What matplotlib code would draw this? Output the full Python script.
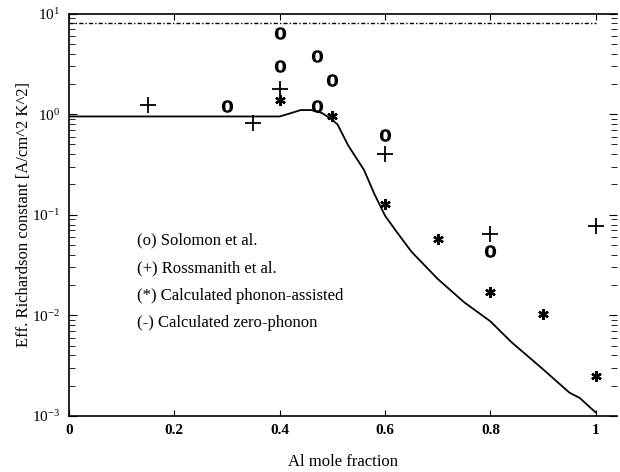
import matplotlib
matplotlib.use("Agg")
import matplotlib.pyplot as plt

plt.rcParams['font.family'] = 'serif'
plt.rcParams['font.serif'] = ['Liberation Serif', 'DejaVu Serif']
plt.rcParams['mathtext.fontset'] = 'custom'
plt.rcParams['mathtext.rm'] = 'Liberation Serif'
plt.rcParams['mathtext.bf'] = 'Liberation Serif:bold'

# measured data: Solomon et al. (o)
solomon_x = [0.30, 0.40, 0.40, 0.47, 0.47, 0.50, 0.60, 0.80]
solomon_y = [1.21, 6.4, 3.05, 3.8, 1.2, 2.2, 0.62, 0.044]

# measured data: Rossmanith et al. (+)
rossmanith_x = [0.15, 0.35, 0.40, 0.60, 0.80, 1.00]
rossmanith_y = [1.23, 0.81, 1.79, 0.40, 0.065, 0.078]

# calculated phonon-assisted (*)
phonon_x = [0.40, 0.50, 0.60, 0.70, 0.80, 0.90, 1.00]
phonon_y = [1.37, 0.96, 0.128, 0.058, 0.017, 0.0102, 0.0025]

# calculated zero-phonon (solid line)
zero_x = [0.0, 0.40, 0.42, 0.44, 0.46, 0.48, 0.50, 0.51, 0.53, 0.56, 0.58,
          0.60, 0.62, 0.65, 0.70, 0.75, 0.80, 0.84, 0.90, 0.95, 0.97, 0.99, 1.00]
zero_y = [0.95, 0.95, 1.02, 1.10, 1.10, 1.03, 0.88, 0.79, 0.49, 0.28, 0.16,
          0.098, 0.070, 0.043, 0.023, 0.0135, 0.0087, 0.0054, 0.0029, 0.0017,
          0.0015, 0.0012, 0.00108]

# upper dash-dot line
upper_x = [0.0, 1.0]
upper_y = [8.1, 8.1]

legend_lines = ["(o) Solomon et al.", "(+) Rossmanith et al.",
                "(*) Calculated phonon-assisted", "(-) Calculated zero-phonon"]
legend_y = [0.056, 0.029, 0.0155, 0.0083]

fig = plt.figure(figsize=(6.2, 4.72), dpi=100)
ax = fig.add_axes([0.111, 0.119, 0.884, 0.852])

ax.plot(zero_x, zero_y, color='black', lw=1.3)
ax.plot(upper_x, upper_y, color='black', lw=1.0, linestyle=(0, (3, 1.5, 1, 1.5)))
ax.plot(solomon_x, solomon_y, linestyle='none', marker=r'$\mathrm{o}$',
        color='black', ms=8)
ax.plot(rossmanith_x, rossmanith_y, linestyle='none', marker='+',
        color='black', ms=11, mew=1.3)
ax.plot(phonon_x, phonon_y, linestyle='none', marker=(6, 2, 0),
        color='black', ms=7.5, mew=1.7)

for txt, ly in zip(legend_lines, legend_y):
    ax.text(0.13, ly, txt, fontsize=12, va='center', ha='left')

ax.set_yscale('log')
ax.set_ylim(1e-3, 1e1)
ax.set_xlim(0, 1.04)
ax.set_xticks([0, 0.2, 0.4, 0.6, 0.8, 1.0])
ax.set_xticklabels(['0', '0.2', '0.4', '0.6', '0.8', '1'], fontweight='bold')

ax.spines['right'].set_visible(False)
for s in ['left', 'bottom', 'top']:
    ax.spines[s].set_linewidth(1.2)

ax.tick_params(axis='both', which='both', direction='in', top=True, right=True)
ax.tick_params(axis='x', which='major', length=4, labelsize=11, pad=6)
ax.tick_params(axis='y', which='major', length=6, labelsize=11, pad=6)
ax.tick_params(axis='y', which='minor', length=4)

ax.set_xlabel('Al mole fraction', fontsize=12, labelpad=12)
ax.set_ylabel('Eff. Richardson constant [A/cm^2 K^2]', fontsize=12, labelpad=0)

fig.savefig('out.png', dpi=100)
